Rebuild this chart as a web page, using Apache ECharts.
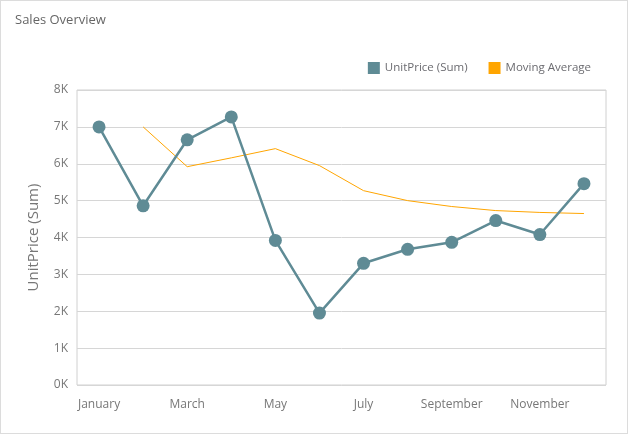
<!DOCTYPE html>
<html>
<head>
<meta charset="utf-8">
<script src="https://cdn.jsdelivr.net/npm/echarts@6/dist/echarts.min.js"></script>
<style>
  html, body { margin: 0; padding: 0; background: #fff; }
  #main { width: 626px; height: 432px; border: 1px solid #dcdcdc; }
</style>
</head>
<body>
<div id="main"></div>
<script>
// chart data
const months = ["January", "February", "March", "April", "May", "June",
  "July", "August", "September", "October", "November", "December"];
const unitPrice = [7000, 4860, 6650, 7270, 3920, 1950, 3300, 3680, 3870, 4460, 4080, 5460];
const movingAvg = [null, 7000, 5920, 6160, 6410, 5950, 5270, 5000, 4840, 4730, 4680, 4650];

const chart = echarts.init(document.getElementById("main"));

const option = {
  animation: false,
  textStyle: { fontFamily: "Open Sans" },
  title: {
    text: "Sales Overview",
    left: 9,
    top: 8,
    textStyle: { fontSize: 13, fontWeight: "normal", color: "#666" },
  },
  legend: {
    right: 31,
    top: 56,
    itemWidth: 12,
    itemHeight: 12,
    itemGap: 21,
    icon: "rect",
    textStyle: { fontSize: 11.5, color: "#6b6b70" },
    data: ["UnitPrice (Sum)", "Moving Average"],
  },
  grid: {
    left: 76,
    top: 89,
    right: 21,
    bottom: 48,
    show: true,
    borderColor: "#d0d0d0",
    borderWidth: 1,
  },
  xAxis: {
    type: "category",
    data: months,
    boundaryGap: true,
    axisLine: { show: false },
    axisTick: { show: false },
    axisLabel: { interval: 1, color: "#777", fontSize: 12, margin: 14 },
  },
  yAxis: {
    type: "value",
    min: 0,
    max: 8000,
    interval: 1000,
    name: "UnitPrice (Sum)",
    nameLocation: "middle",
    nameGap: 36,
    nameTextStyle: { fontSize: 15, color: "#777" },
    axisLine: { show: false },
    axisTick: { show: false },
    splitLine: { lineStyle: { color: "#d6d6d6" } },
    axisLabel: {
      color: "#777",
      fontSize: 12,
      margin: 9,
      formatter: (v) => v / 1000 + "K",
    },
  },
  series: [
    {
      name: "UnitPrice (Sum)",
      type: "line",
      data: unitPrice,
      symbol: "circle",
      symbolSize: 13,
      lineStyle: { width: 2.5, color: "#5f8b95" },
      itemStyle: { color: "#5f8b95" },
      z: 3,
    },
    {
      name: "Moving Average",
      type: "line",
      data: movingAvg,
      showSymbol: false,
      symbol: "rect",
      lineStyle: { width: 1, color: "#ffa500" },
      itemStyle: { color: "#ffa500" },
      z: 2,
    },
  ],
};

chart.setOption(option);
</script>
</body>
</html>
